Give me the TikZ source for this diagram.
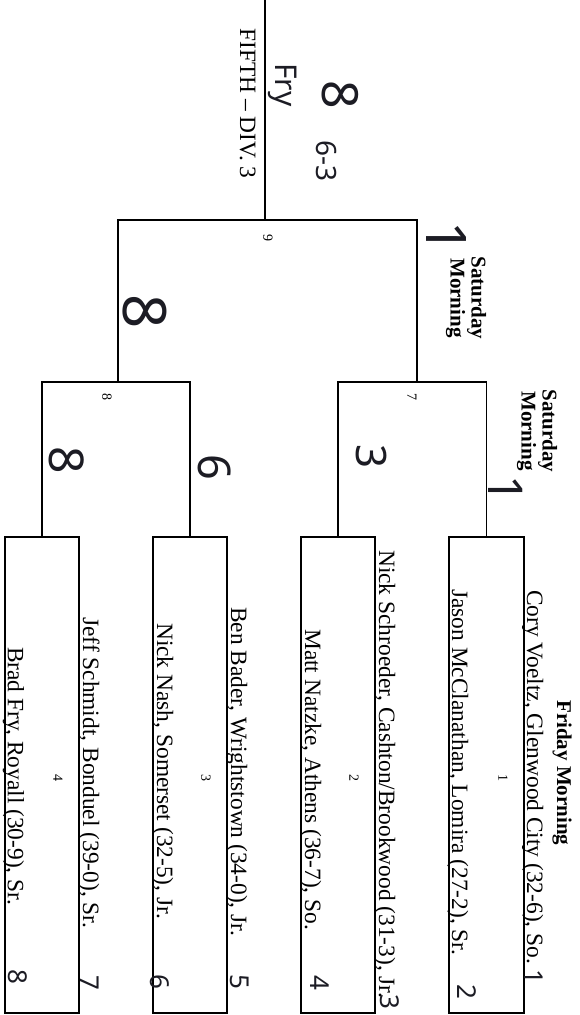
\documentclass[tikz,border=0pt]{standalone}
\usepackage{fontspec}
\setmainfont{Liberation Serif}
\newfontfamily\handfont{Noto Sans}
\definecolor{ink}{HTML}{1C1C24}
\begin{document}
\begin{tikzpicture}[x=1pt,y=-1pt,
  wire/.style={line width=1.6pt, line join=miter},
  matchbox/.style={draw, line width=1.6pt, minimum width=74.5pt, minimum height=476pt, inner sep=0pt, outer sep=0pt},
  wrestler/.style={rotate=-90, anchor=base west, inner sep=0pt, font=\fontsize{23.4}{28}\selectfont},
  sesslabel/.style={rotate=-90, inner sep=0pt, align=center, font=\bfseries\fontsize{21}{21}\selectfont},
  matchno/.style={rotate=-90, inner sep=0pt, font=\fontsize{14}{14}\selectfont},
  inkmark/.style={rotate=-90, inner sep=0pt, text=ink, font=\handfont\fontsize{#1}{#1}\selectfont},
  seedno/.style={rotate=-90, inner sep=0pt, text=ink, font=\handfont\bfseries\fontsize{26}{26}\selectfont}]
\fill[white] (0,0) rectangle (580,1015);
\useasboundingbox (0,0) rectangle (580,1015);

% first-round boxes
\node[matchbox] (b1) at (486.5,775) {};
\node[matchbox] (b2) at (338,775) {};
\node[matchbox] (b3) at (190,775) {};
\node[matchbox] (b4) at (42,775) {};

% bracket joints
\coordinate (m7) at (417,382);
\coordinate (m8) at (118,382);
\coordinate (m9) at (265,220);
\coordinate (top) at (265,0);

\draw[wire] (b2.north) -- (b2.north |- m7) -- (b1.north |- m7) -- (b1.north);
\draw[wire] (b4.north) -- (b4.north |- m8) -- (b3.north |- m8) -- (b3.north);
\draw[wire] (m8) -- (m8 |- m9) -- (m7 |- m9) -- (m7);
\draw[wire] (m9) -- (top);

% printed labels
\node[wrestler] (title) at (240,28) {FIFTH \textendash\ DIV. 3};
\node[sesslabel] (sat9) at (466,298) {Saturday\\Morning};
\node[sesslabel] (sat7) at (537,431) {Saturday\\Morning};
\node[sesslabel, anchor=base west] (fri) at (557,700) {Friday Morning};

\node[matchno] (n9) at (268,238) {9};
\node[matchno] (n7) at (412,397) {7};
\node[matchno] (n8) at (107,397) {8};
\node[matchno] (n1) at (503,778) {1};
\node[matchno] (n2) at (354,778) {2};
\node[matchno] (n3) at (206,778) {3};
\node[matchno] (n4) at (58,778) {4};

\node[wrestler] (w1) at (527,590) {Cory Voeltz, Glenwood City (32-6), So.};
\node[wrestler] (w2) at (452,589) {Jason McClanathan, Lomira (27-2), Sr.};
\node[wrestler] (w3) at (379,550) {Nick Schroeder, Cashton/Brookwood (31-3), Jr.};
\node[wrestler] (w4) at (305,629) {Matt Natzke, Athens (36-7), So.};
\node[wrestler] (w5) at (231,607) {Ben Bader, Wrightstown (34-0), Jr.};
\node[wrestler] (w6) at (157,623) {Nick Nash, Somerset (32-5), Jr.};
\node[wrestler] (w7) at (83,617) {Jeff Schmidt, Bonduel (39-0), Sr.};
\node[wrestler] (w8) at (8,647) {Brad Fry, Royall (30-9), Sr.};

% handwritten marks
\node[inkmark=50] (h8top) at (340,95) {8};
\node[inkmark=30] (hfry) at (283,85) {Fry};
\node[inkmark=28] (h63) at (326,161) {6-3};
\node[inkmark=56] (h1a) at (446,238) {1};
\node[inkmark=60] (h8mid) at (145,312) {8};
\node[inkmark=48] (h1b) at (506,489) {1};
\node[inkmark=42] (h3) at (371,457) {3};
\node[inkmark=45] (h6) at (215,467) {6};
\node[inkmark=48] (h8low) at (67,460) {8};

\node[seedno] (s8) at (18,977) {8};
\node[seedno] (s7) at (90,983) {7};
\node[seedno] (s6) at (160,982) {6};
\node[seedno] (s5) at (240,982) {5};
\node[seedno] (s4) at (320,983) {4};
\node[seedno] (s3) at (390,1002) {3};
\node[seedno] (s2) at (467,992) {2};
\node[seedno] (s1) at (534,977) {1};
\end{tikzpicture}
\end{document}
